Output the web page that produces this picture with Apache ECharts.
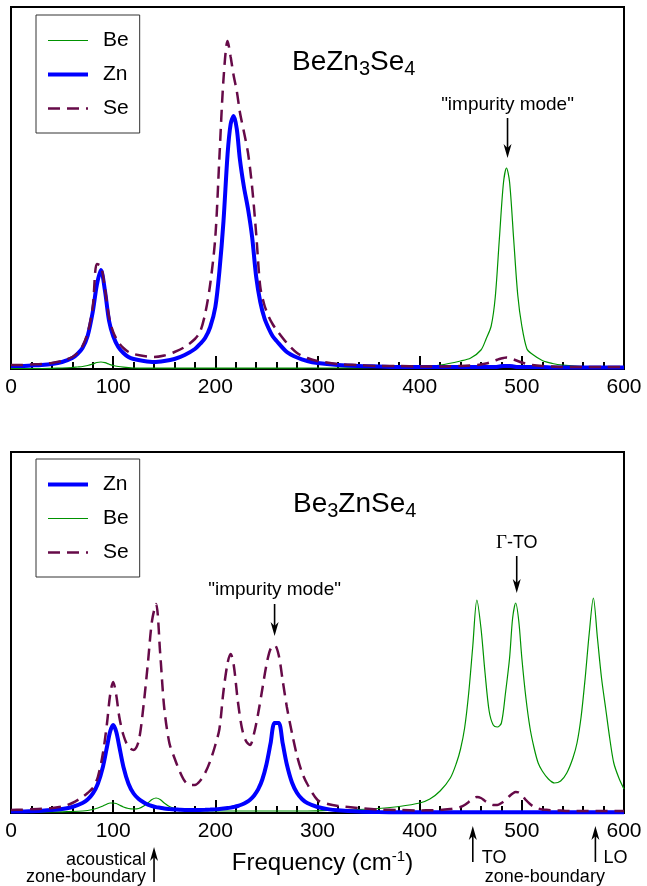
<!DOCTYPE html>
<html><head><meta charset="utf-8">
<script src="https://cdn.jsdelivr.net/npm/echarts@6/dist/echarts.min.js"></script>
<style>html,body{margin:0;padding:0;background:#fff}#c{width:647px;height:886px}</style>
</head><body><div id="c"></div><script>
// ---------- data ----------
const topFreq = [0,10,20,30,40,50,60,65,70,75,80,84,88,92,96,100,105,110,115,120,
  130,140,150,160,170,180,
  185,190,195,200,204,208,212,215,218,221,224,228,232,236,240,244,248,252,256,260,
  270,280,290,300,320,340,360,380,400,420,440,
  450,460,465,470,474,478,482,485,488,492,496,500,
  505,510,520,530,540,560,580,600];
const topBe = [0.5,0.5,0.5,0.5,0.7,1,1.5,2,2.5,3.5,5,6.5,7,6.3,4.8,3.5,2.5,1.8,1.3,1,
  0.8,0.8,0.8,0.8,0.8,0.8,
  0.8,0.8,0.8,0.8,0.8,0.9,0.9,0.9,0.9,0.9,0.9,0.9,0.9,0.9,0.9,0.9,0.9,0.9,0.9,0.9,
  0.9,0.9,1,1,1,1.2,1.5,2,2.5,4,8,
  11,19,30,43,72,130,186,201,187,130,74,43,
  20,15,8.5,5.5,3.8,2.2,1.5,1];
const topZn = [3,3,3.5,4,5,7,11,15,21,33,57,84,99,78,48,33,22,16,12,10,
  8,7,8,10,14,20,
  25,31,42,62,98,148,215,245,253,240,210,182,160,132,92,67,51,41,33,28,
  17,11.5,8,6,4,3,2.5,2,2,2,2,
  2,2,2,2,2,2.5,3,3,3,2.5,2,2,
  2,2,2,1.5,1.5,1.5,1.5,1.5];
const topSe = [4,4,4.5,5,6,8,12,16,23,36,62,105,103,80,52,37,27,21,17,15,
  13,12,13.5,17,22,30,
  37,55,85,132,212,290,328,312,293,278,257,237,216,182,135,82,64,53,45,39,
  26,16,11,8,5,4,3,3,2.5,2.5,3,
  3.5,4.5,5.5,7,8.5,10,11,11.5,11,9.5,8,6.5,
  5,4,3,2.5,2,2,2,2];

const botFreq = [0,10,20,30,40,50,60,70,75,80,85,90,94,97,100,103,106,110,115,120,125,130,134,138,142,146,150,
  155,160,165,170,175,180,185,190,195,200,
  204,208,212,215,218,222,226,230,234,238,242,246,250,254,258,262,266,270,
  275,280,285,290,300,310,320,
  340,360,380,400,410,420,430,436,440,444,448,452,456,460,
  464,468,472,476,480,484,488,491,494,497,500,
  504,508,512,516,520,526,532,538,544,550,
  554,558,562,566,570,574,578,582,586,590,595,600];
const botZn = [1.5,1.5,1.8,2.2,2.9,4,6,10,13.5,19.3,29.3,46.3,66.5,81.3,88,81.3,66.5,46.3,29.3,19.5,14,10.5,8.3,7,5.9,5.2,4.5,
  4,3.6,3.3,3.1,3.1,3.1,3.1,3.2,3.4,3.7,
  4,4.4,4.9,5.4,6,7,8.5,10.5,13.3,17.5,23.8,33.5,48.5,69.3,90,90,69.3,48.5,
  30.5,20,13.8,10,6,3.9,2.7,
  1.5,1,0.8,0.8,0.8,0.8,0.8,0.8,0.8,0.8,0.8,0.8,0.8,0.8,
  0.8,0.8,0.8,0.8,0.8,0.8,0.8,0.8,0.8,0.8,0.8,
  0.8,0.8,0.8,0.8,0.8,0.8,0.8,0.8,0.8,0.8,
  0.8,0.8,0.8,0.8,0.8,0.8,0.8,0.8,0.8,0.8,0.8,0.8];
const botBe = [1,1,1,1,1,1.2,1.5,2,2.5,3.5,5,7,9,10,10,9.5,8,6,4.5,4,4.5,7,10,13.5,15,13.5,10,
  6.5,4.5,3.5,3,2.5,2.2,2,2,2,2,
  2,2,2,2,2,2,2,2,2,2,2,2,2,2,2,2,2,2,
  2,2,2,2,2.2,2.5,3,
  3.5,4.5,6.5,10,14,22,35,50,64,85,120,167,213,185,
  140,102,88,86,90,120,155,195,210,192,155,
  115,85,65,50,42,34,30,32,40,55,
  70,96,135,180,215,175,135,105,75,50,35,24];
const botSe = [3,3.3,3.7,4.2,5,6.5,10,16,20,25,36,60,90,118,131,118,96,78,66,63,72,110,150,192,209,160,105,
  70,55,42,32,28,28,32,40,52,68,
  84,122,150,159,148,112,85,72,68,80,100,124,148,164,168,158,132,106,
  80,57,40,29,13,9,7,
  5,3.5,3,2.5,2.8,3,4,5,6,8,11,14,16,15,
  12,9.5,8,8,10,13,17,19.5,21,20.5,18,
  13,9,6,4.5,3.5,3,2.5,2.5,2,2,
  2,2,2,2,2,2,2,2,2,2,2,2];

const xTickStep = 100;

// ---------- styles ----------
const FONT = 'Liberation Sans, Arial, Helvetica, sans-serif';
const C_BE = '#009200', C_ZN = '#0000ff', C_SE = '#660a48';
const styleBe = {color: C_BE, width: 1.2};
const styleZn = {color: C_ZN, width: 4};
const styleSe = {color: C_SE, width: 2.5, type: [12, 7]};

const zip = (xs, ys) => xs.map((x, i) => [x, ys[i]]);

function xAxisFor(g) {
  return {
    gridIndex: g, type: 'value', min: 0, max: 600, interval: xTickStep,
    axisLine: {show: true, onZero: false, lineStyle: {color: '#000', width: 2}},
    axisTick: {show: true, inside: true, length: 13, lineStyle: {color: '#000', width: 2}},
    minorTick: {show: true, splitNumber: 5, length: 7, lineStyle: {color: '#000', width: 2}},
    splitLine: {show: false}, minorSplitLine: {show: false},
    axisLabel: {fontSize: 21, color: '#000', margin: 8, fontFamily: FONT}
  };
}
function line(name, g, xs, ys, ls, z) {
  return {
    name, type: 'line', xAxisIndex: g, yAxisIndex: g, data: zip(xs, ys),
    symbol: 'none', smooth: 0.3, lineStyle: ls, itemStyle: {color: ls.color}, z: z,
    emphasis: {disabled: true}
  };
}
function legendFor(top, names) {
  return {
    left: 36, top: top, orient: 'vertical', data: names,
    itemWidth: 40, itemHeight: 20, itemGap: 13,
    padding: [15, 11, 14, 10],
    borderColor: '#333', borderWidth: 1,
    itemStyle: {opacity: 0},
    lineStyle: {width: 'inherit', type: 'inherit'},
    textStyle: {fontSize: 21, color: '#000', fontFamily: FONT, padding: [0, 0, 0, 10]},
    selectedMode: false
  };
}

const chart = echarts.init(document.getElementById('c'));
chart.setOption({
  animation: false,
  backgroundColor: '#fff',
  grid: [
    {left: 11, top: 7, width: 613, height: 362, show: true, borderColor: '#000', borderWidth: 2, backgroundColor: 'transparent'},
    {left: 11, top: 452, width: 613, height: 361, show: true, borderColor: '#000', borderWidth: 2, backgroundColor: 'transparent'}
  ],
  xAxis: [xAxisFor(0), xAxisFor(1)],
  yAxis: [
    {gridIndex: 0, type: 'value', min: 0, max: 362, show: false},
    {gridIndex: 1, type: 'value', min: 0, max: 361, show: false}
  ],
  legend: [legendFor(15, ['Be', 'Zn', 'Se']), legendFor(459, ['Zn', 'Be', 'Se'])],
  series: [
    line('Be', 0, topFreq, topBe, styleBe, 2),
    line('Zn', 0, topFreq, topZn, styleZn, 3),
    line('Se', 0, topFreq, topSe, styleSe, 4),
    line('Zn', 1, botFreq, botZn, styleZn, 3),
    line('Be', 1, botFreq, botBe, styleBe, 2),
    line('Se', 1, botFreq, botSe, styleSe, 4)
  ]
});

// ---------- annotations anchored to data x positions ----------
const px = (g, f) => chart.convertToPixel({gridIndex: g}, [f, 0])[0];
const gr = [];
function arrow(x, yTail, yTip) {
  const d = yTip > yTail ? 1 : -1;
  gr.push({type: 'line', shape: {x1: x, y1: yTail, x2: x, y2: yTip - d * 8},
    style: {stroke: '#000', lineWidth: 1.6}, silent: true});
  gr.push({type: 'polygon', shape: {points: [[x, yTip], [x - 4, yTip - d * 14], [x, yTip - d * 10], [x + 4, yTip - d * 14]]},
    style: {fill: '#000'}, silent: true});
}
function text(x, y, str, opts) {
  gr.push(Object.assign({type: 'text', x: x, y: y, silent: true,
    style: Object.assign({text: str, fill: '#000', font: '19px ' + FONT, align: 'center', verticalAlign: 'middle'}, opts || {})}));
}
// titles
text(292, 62, '{m|BeZn}{s|3}{m|Se}{s|4}', {align: 'left', rich: {
  m: {fontSize: 28, fontFamily: FONT, fill: '#000'},
  s: {fontSize: 20, fontFamily: FONT, fill: '#000', padding: [14, 0, 0, 0]}}});
text(293, 504, '{m|Be}{s|3}{m|ZnSe}{s|4}', {align: 'left', rich: {
  m: {fontSize: 28, fontFamily: FONT, fill: '#000'},
  s: {fontSize: 20, fontFamily: FONT, fill: '#000', padding: [14, 0, 0, 0]}}});
// top impurity mode
const xImpTop = px(0, 486);
text(xImpTop, 105, '"impurity mode"');
arrow(xImpTop, 118, 158);
// bottom impurity mode
const xImpBot = px(1, 258);
text(xImpBot, 590, '"impurity mode"');
arrow(xImpBot, 604, 636);
// Gamma-TO
const xG = px(1, 495);
text(xG, 543, '{g|Γ}{t|-TO}', {rich: {
  g: {fontSize: 19, fontFamily: 'Liberation Serif, DejaVu Serif, serif', fill: '#000'},
  t: {fontSize: 18, fontFamily: FONT, fill: '#000'}}});
arrow(xG, 556, 593);
// acoustical zone-boundary
const xAc = px(1, 140);
arrow(xAc, 882, 847);
text(xAc - 8, 860, 'acoustical', {align: 'right', font: '18px ' + FONT});
text(xAc - 8, 877, 'zone-boundary', {align: 'right', font: '18px ' + FONT});
// TO / LO zone-boundary
const xTO = px(1, 452), xLO = px(1, 572);
arrow(xTO, 862, 826);
arrow(xLO, 862, 826);
text(xTO + 9, 858, 'TO', {align: 'left', font: '18px ' + FONT});
text(xLO + 8, 858, 'LO', {align: 'left', font: '18px ' + FONT});
text(xTO + 12, 877, 'zone-boundary', {align: 'left', font: '18px ' + FONT});
// x axis name
text(px(1, 300) + 5, 863, '{m|Frequency (cm}{s|-1}{m|)}', {rich: {
  m: {fontSize: 24, fontFamily: FONT, fill: '#000'},
  s: {fontSize: 15, fontFamily: FONT, fill: '#000', padding: [0, 0, 12, 0]}}});

chart.setOption({graphic: gr});
</script></body></html>
